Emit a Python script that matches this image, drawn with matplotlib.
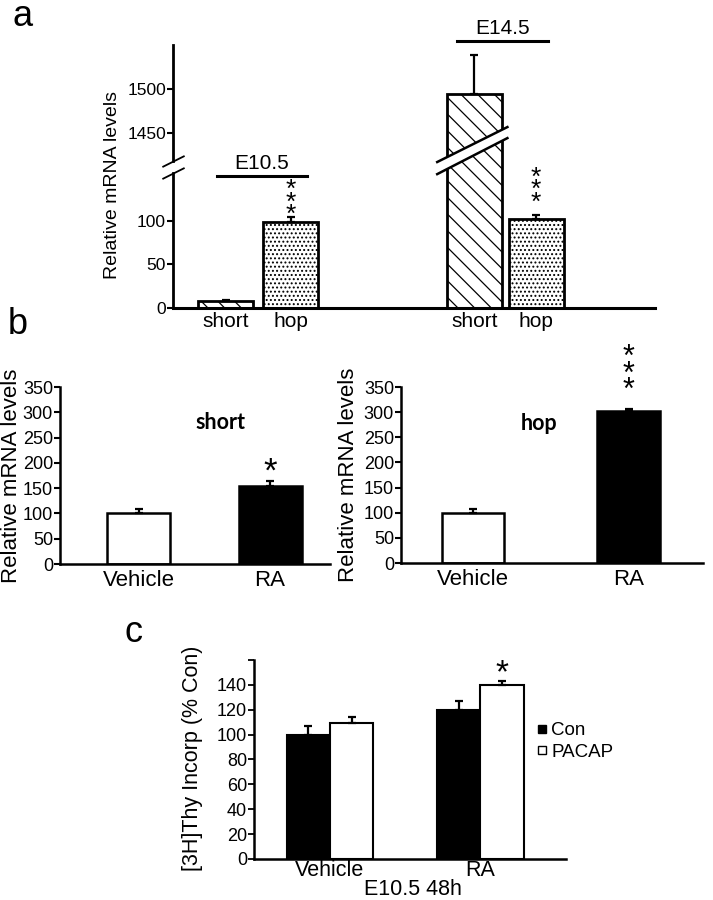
import numpy as np
import matplotlib
matplotlib.use("Agg")
import matplotlib.pyplot as plt
from matplotlib.patches import Polygon
from matplotlib.lines import Line2D

plt.rcParams['font.family'] = ['Liberation Sans', 'DejaVu Sans']
plt.rcParams['hatch.linewidth'] = 0.9

# panel a data
a_labels = ['short', 'hop', 'short', 'hop']
a_pos = [0, 1, 3.82, 4.77]
a_vals = [8, 99, 1495, 102]
a_err = [1, 5, 45, 5]
a_hatch = ['\\\\', '....', '\\\\', '....']

# panel b data
b_cats = ['Vehicle', 'RA']
b_short = [100, 154]
b_short_err = [8, 11]
b_hop = [100, 302]
b_hop_err = [7, 4]

# panel c data
c_cats = ['Vehicle', 'RA']
c_con = [100, 120]
c_con_err = [7, 7]
c_pacap = [109, 140]
c_pacap_err = [5, 3]

fig = plt.figure(figsize=(7.13, 9.0), dpi=100)

# ---------- panel a : broken y axis ----------
A, B = 155, 1418      # break between these values
TA, TB = 155, 169


def fwd(y):
    y = np.asarray(y, dtype=float)
    return np.where(y <= A, y, np.where(y >= B, y - B + TB, TA + (y - A) * (TB - TA) / (B - A)))


def inv(t):
    t = np.asarray(t, dtype=float)
    return np.where(t <= TA, t, np.where(t >= TB, t - TB + B, A + (t - TA) * (B - A) / (TB - TA)))


ax = fig.add_axes([0.2426, 0.6578, 0.676, 0.2922])
ax.set_yscale('function', functions=(fwd, inv))
ax.set_ylim(0, 1551)
ax.set_xlim(-0.815, 6.6)
for x, v, h in zip(a_pos, a_vals, a_hatch):
    ax.bar(x, v, width=0.846, color='white', edgecolor='black', linewidth=2, hatch=h, zorder=2)
ax.errorbar(a_pos, a_vals, yerr=[np.zeros(4), a_err], fmt='none', ecolor='black',
            elinewidth=1.6, capsize=3, capthick=1.6, zorder=3)
ax.set_yticks([0, 50, 100, 1450, 1500])
ax.set_xticks(a_pos)
ax.set_xticklabels(a_labels, fontsize=15)
ax.tick_params(axis='x', length=0, pad=3)
ax.tick_params(axis='y', labelsize=12.5, width=1.5, length=4, pad=1)
for s in ['top', 'right', 'left']:
    ax.spines[s].set_visible(False)
ax.spines['bottom'].set_linewidth(2.2)
yt = ax.get_yaxis_transform()
ax.plot([0, 0], [0, A], transform=yt, color='black', lw=2, clip_on=False)
ax.plot([0, 0], [B, 1551], transform=yt, color='black', lw=2, clip_on=False)
d = 0.5
ax.plot([0, 0], [A, B], transform=yt, marker=[(-1, -d), (1, d)], markersize=16,
        linestyle='none', color='k', mec='k', mew=1.3, clip_on=False)
ax.set_ylabel('Relative mRNA levels', fontsize=14)
ax.yaxis.set_label_coords(-0.108, 0.468)

# slanted break through the tall bar
xt = ax.get_xaxis_transform()
bx0, bx1 = a_pos[2] - 0.57, a_pos[2] + 0.51
band = Polygon([(bx0, 0.509), (bx1, 0.646), (bx1, 0.688), (bx0, 0.555)], closed=True,
               transform=xt, facecolor='white', edgecolor='none', zorder=4, clip_on=False)
ax.add_patch(band)
ax.plot([bx0, bx1], [0.555, 0.688], transform=xt, color='black', lw=1.8, zorder=5, clip_on=False)
ax.plot([bx0, bx1], [0.509, 0.646], transform=xt, color='black', lw=1.8, zorder=5, clip_on=False)

# group labels
ax.plot([-0.14, 1.25], [0.502, 0.502], transform=xt, color='black', lw=2.2, clip_on=False)
ax.text(0.55, 0.512, 'E10.5', transform=xt, ha='center', va='bottom', fontsize=15)
ax.plot([3.55, 4.95], [1.015, 1.015], transform=xt, color='black', lw=2.2, clip_on=False)
ax.text(4.25, 1.025, 'E14.5', transform=xt, ha='center', va='bottom', fontsize=15)
for i, off in [(1, -7), (3, 0)]:
    ax.annotate('*\n*\n*', (a_pos[i], a_vals[i] + a_err[i]), xytext=(0, off),
                textcoords='offset points', ha='center', va='bottom', fontsize=19,
                linespacing=0.4)

fig.text(23 / 713, 1 - 16 / 900, 'a', fontsize=26, ha='center', va='center')


# ---------- panel b ----------
def panel_b(rect, vals, errs, title, title_xy, star, star_size, star_off, xlim, width, lab_x):
    ax = fig.add_axes(rect)
    x = np.arange(len(b_cats))
    ax.bar(x, vals, width=width, color=['white', 'black'], edgecolor='black', linewidth=1.8)
    ax.errorbar(x, vals, yerr=[np.zeros(2), errs], fmt='none', ecolor='black',
                elinewidth=1.6, capsize=3, capthick=1.6)
    ax.set_ylim(0, 350)
    ax.set_xlim(*xlim)
    ax.set_yticks(np.arange(0, 351, 50))
    ax.set_xticks(x)
    ax.set_xticklabels(b_cats, fontsize=16)
    ax.tick_params(axis='x', length=0, pad=4)
    ax.tick_params(axis='y', labelsize=13, width=1.5, length=4, pad=1)
    for s in ['top', 'right']:
        ax.spines[s].set_visible(False)
    ax.spines['left'].set_linewidth(1.8)
    ax.spines['bottom'].set_linewidth(1.8)
    ax.set_ylabel('Relative mRNA levels', fontsize=16)
    ax.yaxis.set_label_coords(lab_x, 0.5)
    ax.text(title_xy[0], title_xy[1], title, transform=ax.transAxes, fontsize=15.5,
            fontweight='bold', family=['Lato', 'DejaVu Sans'], ha='center', va='center')
    ax.annotate(star, (1, vals[1] + errs[1]), xytext=(0, star_off), textcoords='offset points',
                ha='center', va='bottom', fontsize=star_size, linespacing=0.42)
    return ax


panel_b([0.0842, 0.3733, 0.3787, 0.1967], b_short, b_short_err, 'short',
        ((220 - 60) / 270, (564 - 422) / 177), '*', 25, -6, (-0.597, 1.456), 0.48, -0.142)
panel_b([0.5624, 0.3744, 0.4236, 0.1956], b_hop, b_hop_err, 'hop',
        ((539 - 401) / 302, (563 - 423) / 176), '*\n*\n*', 22, 2, (-0.463, 1.479), 0.40, -0.138)
fig.text(18 / 713, 1 - 324 / 900, 'b', fontsize=26, ha='center', va='center')

# ---------- panel c ----------
ax = fig.add_axes([0.3562, 0.0456, 0.4376, 0.2211])
x = np.arange(len(c_cats))
w = 0.286
ax.bar(x - w / 2, c_con, width=w, color='black', edgecolor='black', linewidth=1.5)
ax.bar(x + w / 2, c_pacap, width=w, color='white', edgecolor='black', linewidth=1.5)
ax.errorbar(x - w / 2, c_con, yerr=[np.zeros(2), c_con_err], fmt='none', ecolor='black',
            elinewidth=1.6, capsize=3, capthick=1.6)
ax.errorbar(x + w / 2, c_pacap, yerr=[np.zeros(2), c_pacap_err], fmt='none', ecolor='black',
            elinewidth=1.6, capsize=3, capthick=1.6)
ax.set_ylim(0, 160)
ax.set_xlim(-0.505, 1.568)
ax.set_yticks(np.arange(0, 161, 20))
ax.set_yticklabels([str(v) for v in range(0, 141, 20)] + [''])
ax.set_xticks(x)
ax.set_xticklabels(c_cats, fontsize=15.5)
ax.tick_params(axis='x', length=0, pad=1)
ax.tick_params(axis='y', labelsize=13, width=1.3, length=4, pad=1)
for s in ['top', 'right']:
    ax.spines[s].set_visible(False)
ax.spines['left'].set_linewidth(1.8)
ax.spines['bottom'].set_linewidth(1.8)
ax.set_ylabel('[3H]Thy Incorp (% Con)', fontsize=15.5)
ax.yaxis.set_label_coords(-0.162, 0.508)
ax.text((413 - 254) / 312, (859 - 890) / 199, 'E10.5 48h', transform=ax.transAxes,
        fontsize=15.5, ha='center', va='center')
ax.annotate('*', (1 + w / 2, c_pacap[1] + c_pacap_err[1]), xytext=(0, -6),
            textcoords='offset points', ha='center', va='bottom', fontsize=24)
handles = [Line2D([], [], marker='s', color='black', mfc='black', mec='black', ls='none', ms=6),
           Line2D([], [], marker='s', color='black', mfc='white', mec='black', mew=1, ls='none', ms=6)]
ax.legend(handles, ['Con', 'PACAP'], loc='center left', bbox_to_anchor=(0.875, 0.59),
          frameon=False, fontsize=13.5, handlelength=0.6, handletextpad=0.2,
          labelspacing=0.25, borderpad=0)
fig.text(133 / 713, 1 - 632 / 900, 'c', fontsize=26, ha='center', va='center')

fig.savefig('out.png', dpi=100)
